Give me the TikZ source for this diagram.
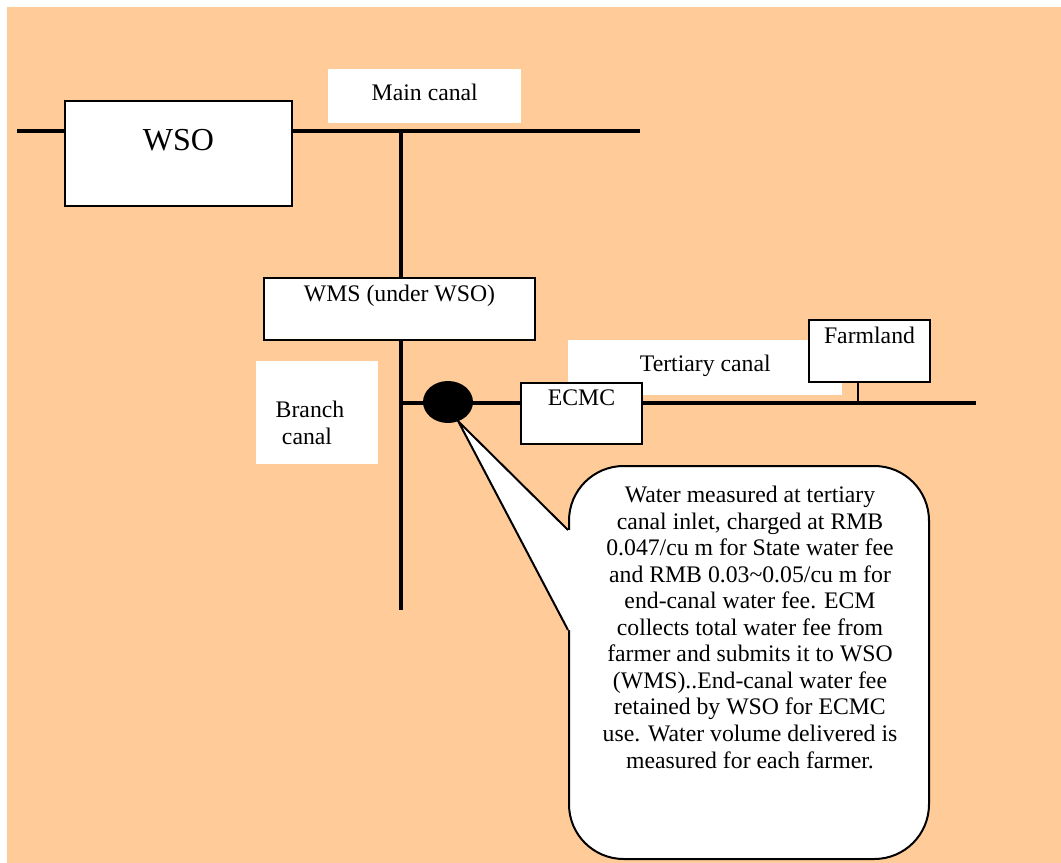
\documentclass[tikz,border=0pt]{standalone}
\usepackage{fontspec}
\setmainfont{Liberation Serif}
\usetikzlibrary{shapes.geometric, positioning}
\definecolor{peach}{HTML}{FFCC99}

\begin{document}
\begin{tikzpicture}[x=0.75pt, y=-0.75pt, inner sep=0pt,
    font=\fontsize{17.8pt}{19.9pt}\selectfont,
    box/.style={draw, fill=white, line width=1.5pt, anchor=north west},
    tag/.style={fill=white, anchor=north west},
    canal/.style={line width=3pt},
    feeder/.style={line width=1.5pt}]
	\useasboundingbox (0,0) rectangle (1061,863);
	\fill[peach] (7,7) rectangle (1061,863);

	% white labels of the canals
	\node[tag, minimum width=144.75pt, text height=23.25pt, text depth=17.25pt] (mainlbl) at (328,69) {Main canal};
	\node[tag, minimum width=91.5pt, minimum height=77.25pt] (branchlbl) at (256,361) {};
	\node[anchor=base] (branchtxt1) at (310,417) {Branch};
	\node[anchor=base] (branchtxt2) at (307,444) {canal};
	\node[tag, minimum width=205.5pt, text height=23.25pt, text depth=18pt] (terlbl) at (568,340) {Tertiary canal};

	% canals
	\coordinate (mainW) at (17,131);
	\coordinate (mainE) at (640,131);
	\coordinate (branchN) at (401,131);
	\coordinate (branchS) at (401,610);
	\coordinate (terW) at (401,403);
	\coordinate (terE) at (976,403);
	\draw[canal] (mainW) -- (mainE);
	\draw[canal] (branchN) -- (branchS);
	\draw[canal] (terW) -- (terE);

	% offices
	\node[box, minimum width=170.25pt, text height=37.5pt, text depth=41.25pt, font=\fontsize{24pt}{28pt}\selectfont] (wso) at (64,100) {WSO};
	\node[box, minimum width=203.25pt, text height=17.25pt, text depth=29.25pt] (wms) at (263,277) {WMS (under WSO)};
	\node[box, minimum width=90.75pt, text height=16.5pt, text depth=29.25pt] (ecmc) at (520,382) {ECMC};
	\node[box, minimum width=90.75pt, text height=17.25pt, text depth=29.25pt] (farm) at (808,319) {Farmland};
	\draw[feeder] ([xshift=-8.6pt]farm.south) -- ([xshift=-8.6pt]farm.south |- terE);

	% meter and its note
	\node[ellipse, fill=black, minimum width=37.5pt, minimum height=31.5pt] (meter) at (448,402) {};
	\coordinate (tip) at (meter.-62);
	\node[box, rounded corners=41pt, minimum width=270pt, minimum height=294.75pt] (notebox) at (568,465) {};
	\fill[white] (tip) -- (568,530) -- (571,530) -- (571,630) -- (568,630) -- cycle;
	\draw[line width=1.5pt] (568,530) -- (tip) -- (568,630);
	\node[align=center, anchor=base] (note) at (750,768) {Water measured at tertiary\\
	  canal inlet, charged at RMB\\
	  0.047/cu m for State water fee\\
	  and RMB 0.03\textasciitilde0.05/cu m for\\
	  end-canal water fee. ECM\\
	  collects total water fee from\\
	  farmer and submits it to WSO\\
	  (WMS)..End-canal water fee\\
	  retained by WSO for ECMC\\
	  use. Water volume delivered is\\
	  measured for each farmer.};
\end{tikzpicture}
\end{document}
